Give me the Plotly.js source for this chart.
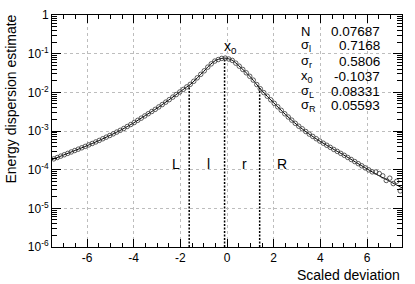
<!DOCTYPE html>
<html>
<head>
<meta charset="utf-8">
<script src="https://cdn.plot.ly/plotly-3.0.1.min.js"></script>
<style>html,body{margin:0;padding:0;background:#fff;}#chart{width:415px;height:284px;}</style>
</head>
<body>
<div id="chart"></div>
<script>
// ---- data ----
const binCenters = [
-7.425,-7.275,-7.125,-6.975,-6.825,-6.675,-6.525,-6.375,-6.225,-6.075,
-5.925,-5.775,-5.625,-5.475,-5.325,-5.175,-5.025,-4.875,-4.725,-4.575,
-4.425,-4.275,-4.125,-3.975,-3.825,-3.675,-3.525,-3.375,-3.225,-3.075,
-2.925,-2.775,-2.625,-2.475,-2.325,-2.175,-2.025,-1.875,-1.725,-1.575,
-1.425,-1.275,-1.125,-0.975,-0.825,-0.675,-0.525,-0.375,-0.225,-0.075,
0.075,0.225,0.375,0.525,0.675,0.825,0.975,1.125,1.275,1.425,
1.575,1.725,1.875,2.025,2.175,2.325,2.475,2.625,2.775,2.925,
3.075,3.225,3.375,3.525,3.675,3.825,3.975,4.125,4.275,4.425,
4.575,4.725,4.875,5.025,5.175,5.325,5.475,5.625,5.775,5.925,
6.075,6.225,6.375,6.525,6.675,6.825,6.975,7.125,7.275,7.425];
const dataValues = [
1.90e-4,2.06e-4,2.24e-4,2.43e-4,2.64e-4,2.87e-4,3.12e-4,3.39e-4,3.68e-4,4.00e-4,
4.37e-4,4.76e-4,5.21e-4,5.71e-4,6.30e-4,6.93e-4,7.64e-4,8.45e-4,9.38e-4,1.04e-3,
1.16e-3,1.31e-3,1.47e-3,1.66e-3,1.89e-3,2.15e-3,2.45e-3,2.80e-3,3.19e-3,3.63e-3,
4.19e-3,4.83e-3,5.58e-3,6.47e-3,7.53e-3,8.77e-3,1.02e-2,1.19e-2,1.38e-2,1.61e-2,
1.93e-2,2.37e-2,2.92e-2,3.60e-2,4.49e-2,5.45e-2,6.43e-2,7.05e-2,7.55e-2,7.67e-2,
7.28e-2,6.70e-2,5.69e-2,4.74e-2,3.91e-2,3.20e-2,2.60e-2,2.07e-2,1.59e-2,1.24e-2,
9.84e-3,7.94e-3,6.41e-3,5.19e-3,4.22e-3,3.43e-3,2.79e-3,2.30e-3,1.91e-3,1.58e-3,
1.33e-3,1.14e-3,9.70e-4,8.32e-4,7.24e-4,6.31e-4,5.50e-4,4.84e-4,4.28e-4,3.78e-4,
3.34e-4,2.97e-4,2.64e-4,2.35e-4,2.07e-4,1.83e-4,1.62e-4,1.43e-4,1.26e-4,1.11e-4,
9.86e-5,8.77e-5,8.71e-5,7.94e-5,6.92e-5,5.25e-5,6.03e-5,4.37e-5,5.01e-5,2.82e-5];

const fitX = [-7.5,-7.0,-6.5,-6.0,-5.5,-5.0,-4.5,-4.0,-3.5,-3.0,-2.5,-2.0,-1.5,-1.25,-1.0,-0.75,-0.5,-0.25,-0.1,
  0.0,0.25,0.5,0.75,1.0,1.25,1.5,2.0,2.5,3.0,3.5,4.0,4.5,5.0,5.5,6.0,6.5,7.0,7.5];
const fitY = [1.82e-4,2.40e-4,3.16e-4,4.17e-4,5.62e-4,7.76e-4,1.096e-3,1.622e-3,2.512e-3,3.89e-3,6.31e-3,1.047e-2,1.738e-2,2.455e-2,3.467e-2,5.012e-2,6.607e-2,7.499e-2,7.69e-2,
  7.586e-2,6.607e-2,4.898e-2,3.548e-2,2.512e-2,1.66e-2,1.096e-2,5.37e-3,2.692e-3,1.445e-3,8.511e-4,5.37e-4,3.548e-4,2.399e-4,1.585e-4,1.047e-4,7.079e-5,4.898e-5,3.388e-5];

const regionBoundX = [-1.62, -0.1037, 1.40];
const regionBoundTop = [1.51e-2, 7.69e-2, 1.29e-2];
const regionLabels = ["L", "l", "r", "R"];
const regionLabelX = [-2.19, -0.81, 0.76, 2.37];

const statNames = ["N", "σ<sub>l</sub>", "σ<sub>r</sub>", "x<sub>0</sub>", "σ<sub>L</sub>", "σ<sub>R</sub>"];
const statValues = ["0.07687", "0.7168", "0.5806", "-0.1037", "0.08331", "0.05593"];

const xTickVals = [-6, -4, -2, 0, 2, 4, 6];
const xTickText = ["-6", "-4", "-2", "0", "2", "4", "6"];
const yTickVals = [1e-6, 1e-5, 1e-4, 1e-3, 1e-2, 1e-1, 1];
const yTickText = ["10<sup>-6</sup>", "10<sup>-5</sup>", "10<sup>-4</sup>", "10<sup>-3</sup>", "10<sup>-2</sup>", "10<sup>-1</sup>", "1"];

// ---- layout geometry ----
const M = {l: 52, r: 13, t: 15, b: 37};
const W = 415 - M.l - M.r, H = 284 - M.t - M.b;
const px = v => (v - M.l) / W;
const py = v => 1 - (v - M.t) / H;
const FONT = "Liberation Sans, Arial, Helvetica, sans-serif";

// minor tick positions
const yMinor = [];
for (let e = -6; e < 0; e++) for (let m = 2; m <= 9; m++) yMinor.push(m * Math.pow(10, e));
const xMinor = [];
for (let v = -7.5; v <= 7.5; v += 0.5) if (Math.abs(v % 2) > 1e-9) xMinor.push(v);

// boundary lines from the curve down to the bottom of the frame
const bx = [], by = [];
regionBoundX.forEach((x, i) => { bx.push(x, x, null); by.push(1e-6, regionBoundTop[i], null); });

const traces = [
  {x: bx, y: by, mode: "lines", line: {color: "#000", width: 1.5, dash: "2px,1.5px"}, hoverinfo: "skip", connectgaps: false},
  {x: fitX, y: fitY, mode: "lines", line: {color: "#000", width: 1, shape: "spline", smoothing: 0.8}, hoverinfo: "skip"},
  {x: binCenters, y: dataValues, mode: "markers",
   marker: {symbol: "circle-open", size: 4.5, color: "#333", line: {width: 0.8, color: "#333"}}}
];

const annotations = [];
statNames.forEach((n, i) => {
  const yc = 31 + i * 15;
  annotations.push({xref: "paper", yref: "paper", x: px(299), y: py(yc), xanchor: "left", yanchor: "middle",
    text: n, showarrow: false, font: {family: FONT, size: 13, color: "#000"}});
  annotations.push({xref: "paper", yref: "paper", x: px(382), y: py(yc), xanchor: "right", yanchor: "middle",
    text: statValues[i], showarrow: false, font: {family: FONT, size: 13.5, color: "#000"}});
});
regionLabels.forEach((t, i) => {
  annotations.push({xref: "x", yref: "paper", x: regionLabelX[i], y: py(164), xanchor: "center", yanchor: "middle",
    text: t, showarrow: false, font: {family: FONT, size: 14, color: "#000"}});
});
annotations.push({xref: "paper", yref: "paper", x: px(230), y: py(47), xanchor: "center", yanchor: "middle",
  text: "x<sub>0</sub>", showarrow: false, font: {family: FONT, size: 14, color: "#000"}});
annotations.push({xref: "paper", yref: "paper", x: px(402), y: py(275), xanchor: "right", yanchor: "middle",
  text: "Scaled deviation", showarrow: false, font: {family: FONT, size: 14, color: "#000"}});
annotations.push({xref: "paper", yref: "paper", x: px(10), y: py(13), xanchor: "center", yanchor: "top", textangle: -90,
  text: "Energy dispersion estimate", showarrow: false, font: {family: FONT, size: 14, color: "#000"}});

const axisCommon = {
  showline: true, linecolor: "#000", linewidth: 1, mirror: "allticks",
  ticks: "inside", tickcolor: "#000", tickwidth: 1,
  showgrid: true, gridcolor: "#bdbdbd", griddash: "3px,3px", gridwidth: 1,
  zeroline: false, tickfont: {family: FONT, size: 12, color: "#000"}
};

const layout = {
  width: 415, height: 284, margin: M,
  paper_bgcolor: "#fff", plot_bgcolor: "#fff", showlegend: false,
  font: {family: FONT, color: "#000"},
  xaxis: Object.assign({}, axisCommon, {
    range: [-7.5, 7.5], tickmode: "array", tickvals: xTickVals, ticktext: xTickText, ticklen: 8,
    minor: {tickmode: "array", tickvals: xMinor, ticks: "inside", ticklen: 4, tickcolor: "#000", showgrid: false}
  }),
  yaxis: Object.assign({}, axisCommon, {
    type: "log", range: [-6, 0], tickmode: "array", tickvals: yTickVals, ticktext: yTickText, ticklen: 9,
    minor: {tickmode: "array", tickvals: yMinor, ticks: "inside", ticklen: 5, tickcolor: "#000", showgrid: false}
  }),
  annotations: annotations
};

Plotly.newPlot("chart", traces, layout, {staticPlot: true, displayModeBar: false});
</script>
</body>
</html>
